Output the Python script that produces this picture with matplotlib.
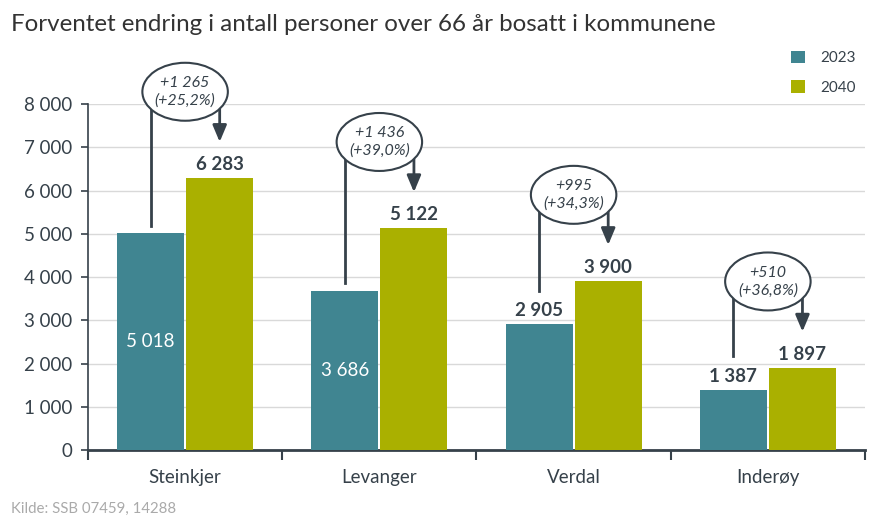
import numpy as np
import matplotlib
matplotlib.use("Agg")
import matplotlib.pyplot as plt
from matplotlib.patches import Ellipse

plt.rcParams['font.family'] = ['Lato', 'DejaVu Sans']

kommuner = ["Steinkjer", "Levanger", "Verdal", "Inderøy"]
v2023 = [5018, 3686, 2905, 1387]
v2040 = [6283, 5122, 3900, 1897]
endring = ["+1 265\n(+25,2%)", "+1 436\n(+39,0%)", "+995\n(+34,3%)", "+510\n(+36,8%)"]
yticks = [0, 1000, 2000, 3000, 4000, 5000, 6000, 7000, 8000]

teal = "#408591"
olive = "#AAB000"
dark = "#36414A"

def fmt(v):
    return "{:,}".format(v).replace(",", " ")

fig = plt.figure(figsize=(8.78, 5.29), dpi=100)
ax = fig.add_axes([0.1002, 0.1493, 0.8850, 0.6541])

x = np.arange(len(kommuner))
w = 0.345
off = 0.178
ax.bar(x - off, v2023, w, color=teal, label="2023", zorder=3)
ax.bar(x + off, v2040, w, color=olive, label="2040", zorder=3)

for i in range(len(x)):
    # verdier
    if v2023[i] > 3000:
        ax.text(x[i] - off, v2023[i] / 2, fmt(v2023[i]), ha="center", va="center",
                color="white", fontsize=13.5, zorder=4)
        start = v2023[i] + 170
    else:
        ax.text(x[i] - off, v2023[i] + 120, fmt(v2023[i]), ha="center", va="bottom",
                color=dark, fontsize=13.5, fontweight="bold", zorder=4)
        start = v2023[i] + 780
    ax.text(x[i] + off, v2040[i] + 120, fmt(v2040[i]), ha="center", va="bottom",
            color=dark, fontsize=13.5, fontweight="bold", zorder=4)

    # ellipse med endring
    cy = v2040[i] + 2000
    ew, eh = 0.44, 1340
    ax.add_patch(Ellipse((x[i], cy), ew, eh, facecolor="white", edgecolor=dark,
                         lw=1.5, zorder=5, clip_on=False))
    ax.text(x[i], cy, endring[i], ha="center", va="center", style="italic",
            color=dark, fontsize=11.5, linespacing=1.3, zorder=6)
    dy = (eh / 2) * np.sqrt(1 - (off / (ew / 2)) ** 2)
    ax.plot([x[i] - off, x[i] - off], [start, cy - dy], color=dark, lw=2,
            zorder=4, clip_on=False)
    ax.annotate("", xy=(x[i] + off, v2040[i] + 840), xytext=(x[i] + off, cy - dy),
                arrowprops=dict(arrowstyle="-|>,head_width=0.42,head_length=1.0",
                                color=dark, lw=2, shrinkA=0, shrinkB=0), zorder=4)

ax.set_xlim(-0.5, 3.5)
ax.set_ylim(0, 8000)
ax.set_yticks(yticks)
ax.set_yticklabels([fmt(v) for v in yticks], fontsize=13.5, color=dark)
ax.set_xticks(x)
ax.set_xticklabels(kommuner, fontsize=13.5, color=dark)
ax.set_xticks(np.arange(-0.5, 4, 1), minor=True)
ax.tick_params(axis="x", which="major", length=0, pad=14)
ax.tick_params(axis="x", which="minor", length=7, width=1.5, color=dark)
ax.tick_params(axis="y", length=5, width=1.2, color=dark, pad=6)
ax.grid(axis="y", color="#D9D9D9", lw=1, zorder=0)
for s in ["top", "right"]:
    ax.spines[s].set_visible(False)
ax.spines["left"].set_color(dark)
ax.spines["left"].set_linewidth(1.2)
ax.spines["bottom"].set_color(dark)
ax.spines["bottom"].set_linewidth(2)

fig.text(0.013, 0.942, "Forventet endring i antall personer over 66 år bosatt i kommunene",
         fontsize=17.4, color="#333333")
fig.legend(loc="upper right", bbox_to_anchor=(0.99, 0.93), frameon=False,
           fontsize=11, handlelength=0.9, handleheight=0.9, labelspacing=0.95,
           handletextpad=1.0, labelcolor=dark)
fig.text(0.013, 0.03, "Kilde: SSB 07459, 14288", fontsize=10.8, color="#AAAAAA")

fig.savefig("out.png", dpi=100)
